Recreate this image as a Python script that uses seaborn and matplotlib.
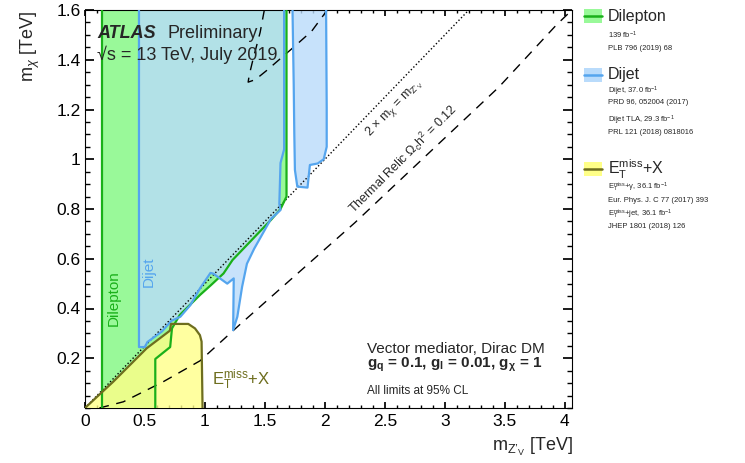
import seaborn as sns
import matplotlib.pyplot as plt
from matplotlib.patches import Rectangle
from matplotlib.ticker import MultipleLocator, FormatStrFormatter

# limit contours, all in TeV
dilep_left_x = [0.14, 0.14]
dilep_left_y = [0.0, 1.6]
dilep_x = [0.586, 0.586, 0.71, 0.725, 0.79, 0.96, 1.05, 1.155, 1.23, 1.55, 1.63, 1.68, 1.68]
dilep_y = [0.0, 0.197, 0.245, 0.32, 0.374, 0.455, 0.494, 0.541, 0.595, 0.756, 0.80, 0.85, 1.6]

dijet_x = [0.45, 0.45, 0.50, 0.52, 0.64, 0.72, 0.795, 0.879, 0.96, 1.046, 1.07, 1.186, 1.24, 1.235,
           1.27, 1.31, 1.35, 1.41, 1.48, 1.55, 1.63, 1.62, 1.63, 1.66, 1.66]
dijet_y = [1.6, 0.245, 0.245, 0.265, 0.307, 0.35, 0.367, 0.414, 0.482, 0.543, 0.54, 0.50, 0.521, 0.313,
           0.367, 0.488, 0.58, 0.64, 0.70, 0.76, 0.796, 0.82, 0.985, 1.04, 1.6]

tla_x = [1.73, 1.74, 1.745, 1.75, 1.77, 1.855, 1.875, 1.94, 1.99, 2.015, 2.015, 2.01]
tla_y = [1.6, 1.3, 1.1, 0.957, 0.89, 0.886, 0.977, 0.983, 1.0, 1.05, 1.21, 1.6]

met_x = [0.0, 0.236, 0.514, 0.708, 0.717, 0.861, 0.917, 0.958, 0.972, 0.98]
met_y = [0.0, 0.106, 0.24, 0.311, 0.338, 0.338, 0.32, 0.293, 0.267, 0.0]

relic_x = [0.12, 0.32, 0.65, 0.96, 1.29, 2.25, 3.45, 3.93, 4.06]
relic_y = [0.0, 0.025, 0.105, 0.19, 0.335, 0.745, 1.29, 1.54, 1.6]
relic_hi_x = [1.495, 1.46, 1.40, 1.37, 1.36, 1.42, 1.51, 1.75, 1.89, 2.02]
relic_hi_y = [1.6, 1.51, 1.40, 1.34, 1.31, 1.32, 1.355, 1.455, 1.515, 1.6]

kin_x = [0.0, 3.2]
kin_y = [0.0, 1.6]

green_fill, green_line = '#99f999', '#1ab01a'
blue_fill, blue_line = '#b9dbfb', '#55a5ee'
yel_fill, yel_line = '#ffff88', '#6e6e1e'

sns.set_theme(style='ticks')
plt.rcParams['font.family'] = ['Liberation Sans', 'DejaVu Sans']
plt.rcParams['mathtext.fontset'] = 'custom'
plt.rcParams['mathtext.rm'] = 'Liberation Sans'
plt.rcParams['mathtext.it'] = 'Liberation Sans:italic'
plt.rcParams['mathtext.bf'] = 'Liberation Sans:bold'

fig = plt.figure(figsize=(7.45, 4.63), dpi=100)
ax = fig.add_axes([85 / 745, 55 / 463, 487 / 745, 398 / 463])

# filled exclusion regions
ax.fill(dilep_left_x + dilep_x[::-1], dilep_left_y + dilep_y[::-1], color=green_fill, lw=0, zorder=1)
ax.fill(dijet_x, dijet_y, color=blue_fill, alpha=0.8, lw=0, zorder=2)
ax.fill(tla_x, tla_y, color=blue_fill, alpha=0.8, lw=0, zorder=2)
ax.fill(met_x, met_y, color=yel_fill, alpha=0.8, lw=0, zorder=3)

# reference lines
sns.lineplot(x=kin_x, y=kin_y, color='black', lw=1.0, linestyle=(0, (1, 1.6)), ax=ax, zorder=4)
sns.lineplot(x=relic_x, y=relic_y, color='black', lw=1.0, linestyle=(0, (7, 5.5)),
             sort=False, estimator=None, ax=ax, zorder=4)
sns.lineplot(x=relic_hi_x, y=relic_hi_y, color='black', lw=1.0, linestyle=(0, (7, 5.5)),
             sort=False, estimator=None, ax=ax, zorder=4)

# contour edges
sns.lineplot(x=dilep_left_x, y=dilep_left_y, color=green_line, lw=1.6, sort=False, estimator=None, ax=ax, zorder=5)
sns.lineplot(x=dilep_x, y=dilep_y, color=green_line, lw=1.6, sort=False, estimator=None, ax=ax, zorder=5)
sns.lineplot(x=dijet_x, y=dijet_y, color=blue_line, lw=1.6, sort=False, estimator=None, ax=ax, zorder=6)
sns.lineplot(x=tla_x, y=tla_y, color=blue_line, lw=1.6, sort=False, estimator=None, ax=ax, zorder=6)
sns.lineplot(x=met_x, y=met_y, color=yel_line, lw=1.6, sort=False, estimator=None, ax=ax, zorder=7)

ax.set_xlim(0, 4.06)
ax.set_ylim(0, 1.6)
ax.xaxis.set_major_locator(MultipleLocator(0.5))
ax.xaxis.set_minor_locator(MultipleLocator(0.1))
ax.set_yticks([0.2, 0.4, 0.6, 0.8, 1.0, 1.2, 1.4, 1.6])
ax.yaxis.set_minor_locator(MultipleLocator(0.05))
ax.xaxis.set_major_formatter(FormatStrFormatter('%g'))
ax.yaxis.set_major_formatter(FormatStrFormatter('%g'))
ax.tick_params(which='both', direction='in', top=True, right=True, colors='black', labelsize=12.5)
ax.tick_params(axis='x', which='major', length=4.5, pad=4)
ax.tick_params(axis='x', which='minor', length=2.3)
ax.tick_params(axis='y', which='major', length=6.5, pad=3)
ax.tick_params(axis='y', which='minor', length=3.5)
for s in ax.spines.values():
    s.set_linewidth(0.8)
    s.set_color('black')
ax.set_xlabel('')
ax.set_ylabel('')

zp = r'\mathregular{Z’_{V}}'

# texts inside the frame
ax.text(0.1, 1.507, 'ATLAS', fontsize=13, fontweight='bold', fontstyle='italic', va='center', zorder=8)
ax.text(0.685, 1.507, 'Preliminary', fontsize=13, va='center', zorder=8)
ax.text(0.1, 1.419, '√s = 13 TeV, July 2019', fontsize=13, va='center', zorder=8)
ax.text(0.24, 0.44, 'Dilepton', color=green_line, fontsize=11, rotation=90, ha='center', va='center', zorder=8)
ax.text(0.535, 0.547, 'Dijet', color=blue_line, fontsize=11, rotation=90, ha='center', va='center', zorder=8)
ax.text(1.056, 0.092, r'E$_{\mathregular{T}}^{\mathregular{miss}}$+X', color=yel_line, fontsize=12,
        va='baseline', zorder=8)
ax.text(2.575, 1.206, r'2 × m$_{\chi}$ = m$_{' + zp + '}$', fontsize=9, rotation=46,
        ha='center', va='center', zorder=8)
ax.text(2.65, 1.0, r'Thermal Relic $\Omega_{\mathregular{c}}$h$^{\mathregular{2}}$ = 0.12', fontsize=9,
        rotation=45, ha='center', va='center', zorder=8)
ax.text(2.347, 0.222, 'Vector mediator, Dirac DM', fontsize=11, va='baseline', zorder=8)
ax.text(2.347, 0.164, r'$\mathbf{g_{q}}$ = 0.1, $\mathbf{g_{l}}$ = 0.01, $\mathbf{g_{\chi}}$ = 1',
        fontsize=11, fontweight='bold', va='baseline', zorder=8)
ax.text(2.347, 0.056, 'All limits at 95% CL', fontsize=8.5, va='baseline', zorder=8)

# axis titles
fig.text(30 / 745, 1 - 11 / 463, r'm$_{\chi}$ [TeV]', fontsize=13, rotation=90, ha='center', va='top')
fig.text(573 / 745, 1 - 451 / 463, r'm$_{' + zp + '}$ [TeV]', fontsize=13, ha='right', va='baseline')

# legend column, drawn in pixel units
lg = fig.add_axes([575 / 745, 0, 170 / 745, 1])
lg.set_xlim(575, 745)
lg.set_ylim(463, 0)
lg.axis('off')
entries = [
    (16, green_fill, green_line, 'Dilepton',
     [(35, r'139 fb$^{\mathregular{-1}}$'), (48, 'PLB 796 (2019) 68')]),
    (75, blue_fill, blue_line, 'Dijet',
     [(91, r'Dijet, 37.0 fb$^{\mathregular{-1}}$'), (103, 'PRD 96, 052004 (2017)'),
      (120, r'Dijet TLA, 29.3 fb$^{\mathregular{-1}}$'), (133, 'PRL 121 (2018) 0818016')]),
    (169, yel_fill, yel_line, r'E$_{\mathregular{T}}^{\mathregular{miss}}$+X',
     [(187, r'E$_{\mathregular{T}}^{\mathregular{miss}}$+γ, 36.1 fb$^{\mathregular{-1}}$'),
      (200, 'Eur. Phys. J. C 77 (2017) 393'),
      (214, r'E$_{\mathregular{T}}^{\mathregular{miss}}$+jet, 36.1 fb$^{\mathregular{-1}}$'),
      (227, 'JHEP 1801 (2018) 126')]),
]
for yc, fc, lc, name, subs in entries:
    lg.add_patch(Rectangle((584, yc - 7), 18, 14, facecolor=fc, edgecolor='none'))
    lg.plot([584, 602], [yc, yc], color=lc, lw=1.8)
    lg.text(608, yc, name, fontsize=11.5, va='center')
    for ys, txt in subs:
        lg.text(608, ys, txt, fontsize=5.5, va='center')

fig.savefig('out.png', dpi=100)
